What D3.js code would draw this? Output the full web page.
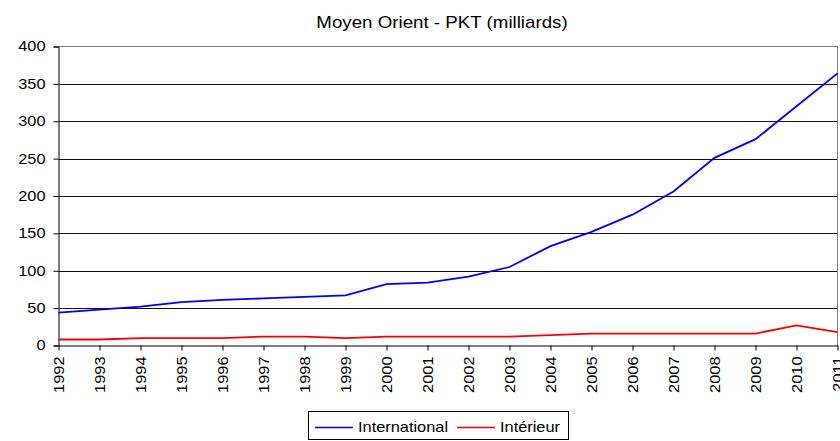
<!DOCTYPE html>
<html>
<head>
<meta charset="utf-8">
<script src="https://cdn.jsdelivr.net/npm/d3@7"></script>
<style>
  body { margin: 0; background: #fff; }
  svg { font-family: "Liberation Sans", Arial, sans-serif; }
</style>
</head>
<body>
<svg id="chart" width="840" height="441"></svg>
<script>
// data
var years = [1992, 1993, 1994, 1995, 1996, 1997, 1998, 1999, 2000, 2001,
             2002, 2003, 2004, 2005, 2006, 2007, 2008, 2009, 2010, 2011];
var international = [44, 48, 52, 58, 61, 63, 65, 67, 82, 84,
                     92, 105, 133, 152, 175, 206, 251, 276, 320, 364];
var interieur = [8, 8, 10, 10, 10, 12, 12, 10, 12, 12,
                 12, 12, 14, 16, 16, 16, 16, 16, 27, 18];
var yTicks = [0, 50, 100, 150, 200, 250, 300, 350, 400];
var seriesNames = ["International", "Intérieur"];
var seriesColors = ["#0000ff", "#ff0000"];

// text in the original is a bit wider than Liberation Sans
var stretch = 1.17;

var margin = {left: 58.5, right: 837.5, top: 46.5, bottom: 345.5};
var svg = d3.select("#chart");

var x = d3.scalePoint()
    .domain(years)
    .range([margin.left, margin.right]);

var y = d3.scaleLinear()
    .domain([0, 400])
    .range([margin.bottom, margin.top]);

// title
svg.append("text")
    .attr("text-anchor", "middle")
    .attr("transform", "translate(442,28) scale(" + stretch + ",1)")
    .style("font-size", "16px")
    .text("Moyen Orient - PKT (milliards)");

// gridlines
svg.append("g").selectAll("line")
    .data(yTicks.filter(function(d){ return d > 0 && d < 400; }))
    .enter().append("line")
    .attr("x1", margin.left).attr("x2", margin.right)
    .attr("y1", function(d){ return Math.round(y(d)) + 0.5; })
    .attr("y2", function(d){ return Math.round(y(d)) + 0.5; })
    .attr("stroke", "#111");

// top + right border (grey)
svg.append("path")
    .attr("d", "M" + margin.left + "," + margin.top + "H" + margin.right + "V" + margin.bottom)
    .attr("fill", "none")
    .attr("stroke", "#808080");

// y axis
var yAxis = svg.append("g")
    .attr("transform", "translate(" + margin.left + ",0)")
    .call(d3.axisLeft(y).tickValues(yTicks).tickSize(5));
yAxis.selectAll("line,path").attr("stroke", "#000");
yAxis.selectAll("text")
    .style("font-size", "14px")
    .attr("fill", "#000")
    .attr("x", 0)
    .attr("transform", "translate(-13,0) scale(" + stretch + ",1)");

// x axis
var xAxis = svg.append("g")
    .attr("transform", "translate(0," + margin.bottom + ")")
    .call(d3.axisBottom(x).tickSize(5).tickSizeOuter(0));
xAxis.selectAll("line,path").attr("stroke", "#000");
xAxis.selectAll("text")
    .style("font-size", "14px")
    .attr("fill", "#000")
    .attr("text-anchor", "end")
    .attr("dy", null)
    .attr("y", 0)
    .attr("transform", "translate(5,11) rotate(-90) scale(" + stretch + ",1)");

// lines
var line = d3.line()
    .x(function(d, i){ return x(years[i]); })
    .y(function(d){ return y(d); });

[international, interieur].forEach(function(s, i){
    svg.append("path")
        .datum(s)
        .attr("fill", "none")
        .attr("stroke", seriesColors[i])
        .attr("stroke-width", 1.8)
        .attr("d", line);
});

// legend
var legend = svg.append("g");
legend.append("rect")
    .attr("x", 308.5).attr("y", 411.5)
    .attr("width", 260).attr("height", 28)
    .attr("fill", "#fff").attr("stroke", "#000");

var legX = [315, 457];
seriesNames.forEach(function(name, i){
    legend.append("line")
        .attr("x1", legX[i]).attr("x2", legX[i] + 38)
        .attr("y1", 427.5).attr("y2", 427.5)
        .attr("stroke", seriesColors[i]).attr("stroke-width", 1.6);
    legend.append("text")
        .attr("transform", "translate(" + (legX[i] + 43) + ",432) scale(" + stretch + ",1)")
        .style("font-size", "14px")
        .text(name);
});
</script>
</body>
</html>
